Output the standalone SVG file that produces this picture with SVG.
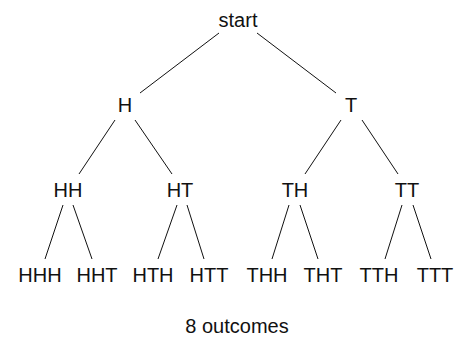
<svg xmlns="http://www.w3.org/2000/svg" width="464" height="337" viewBox="0 0 464 337">
<style>
text{font-family:"Liberation Sans",Arial,sans-serif;font-size:20px;fill:#111;text-anchor:middle}
.e line{stroke:#111;stroke-width:1}
</style>
<rect width="464" height="337" fill="#fff"/>
<g class="e" id="connectors">
<line x1="219" y1="33" x2="140" y2="93"/>
<line x1="257" y1="33" x2="336" y2="93"/>
<line x1="115" y1="120" x2="79" y2="174"/>
<line x1="135" y1="120" x2="172" y2="174"/>
<line x1="341" y1="120" x2="305" y2="174"/>
<line x1="362" y1="120" x2="398" y2="174"/>
<line x1="63" y1="205" x2="45" y2="259"/>
<line x1="73" y1="205" x2="92" y2="259"/>
<line x1="177" y1="205" x2="158" y2="259"/>
<line x1="187" y1="205" x2="204" y2="259"/>
<line x1="289" y1="205" x2="272" y2="259"/>
<line x1="300" y1="205" x2="318" y2="259"/>
<line x1="402" y1="205" x2="385" y2="259"/>
<line x1="413" y1="205" x2="431" y2="259"/>
</g>
<g id="start"><text x="238" y="27">start</text></g>
<g id="H"><text x="125" y="112">H</text></g>
<g id="T"><text x="351" y="112">T</text></g>
<g id="HH"><text x="68" y="197">HH</text></g>
<g id="HT"><text x="180" y="197">HT</text></g>
<g id="TH"><text x="295" y="197">TH</text></g>
<g id="TT"><text x="407" y="197">TT</text></g>
<g id="HHH"><text x="40" y="282">HHH</text></g>
<g id="HHT"><text x="97" y="282">HHT</text></g>
<g id="HTH"><text x="153" y="282">HTH</text></g>
<g id="HTT"><text x="209" y="282">HTT</text></g>
<g id="THH"><text x="267" y="282">THH</text></g>
<g id="THT"><text x="323" y="282">THT</text></g>
<g id="TTH"><text x="379" y="282">TTH</text></g>
<g id="TTT"><text x="435" y="282">TTT</text></g>
<g id="caption"><text x="237" y="333">8 outcomes</text></g>
</svg>
